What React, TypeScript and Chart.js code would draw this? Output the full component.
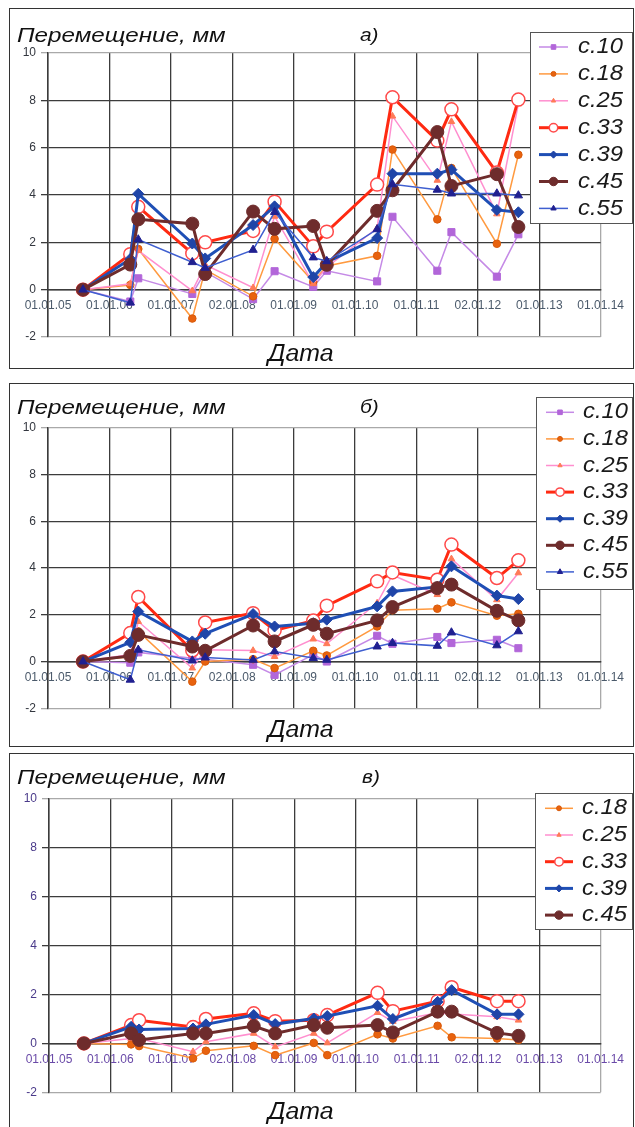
import React, { useEffect, useRef } from 'react';
import { Chart, registerables } from 'chart.js';

Chart.register(...registerables);

const FONT = "'Liberation Sans', Arial, sans-serif";

const X_MIN = 2005;
const X_MAX = 2014;
const X_TICK_LABELS = ['01.01.05', '01.01.06', '01.01.07', '02.01.08', '01.01.09', '01.01.10', '01.01.11', '02.01.12', '01.01.13', '01.01.14'];
const Y_MIN = -2;
const Y_MAX = 10;
const Y_STEP = 2;
const Y_TITLE = 'Перемещение, мм';
const X_TITLE = 'Дата';
const PANEL_LETTERS = ['а)', 'б)', 'в)'];

// measurement dates (decimal years)
const DATES = [2005.57, 2006.34, 2006.47, 2007.35, 2007.56, 2008.34, 2008.69, 2009.32, 2009.54, 2010.36, 2010.61, 2011.34, 2011.57, 2012.31, 2012.66];

// panel а)
const A_C10 = [0, -0.5, 0.48, -0.18, 0.75, -0.4, 0.78, 0.12, 0.8, 0.35, 3.08, 0.8, 2.43, 0.55, 2.34];
const A_C18 = [0, 0.2, 1.72, -1.22, 0.85, -0.28, 2.15, 0.33, 1.0, 1.43, 5.92, 2.97, 5.14, 1.94, 5.7];
const A_C25 = [0, 0.25, 1.65, -0.05, 1.05, 0.08, 3.1, 0.25, 0.95, 2.6, 7.33, 4.62, 7.1, 3.2, 7.85];
const A_C33 = [0, 1.5, 3.5, 1.53, 2.0, 2.48, 3.72, 1.83, 2.45, 4.44, 8.13, 6.3, 7.62, 4.95, 8.03];
const A_C39 = [0, 1.3, 4.05, 1.95, 1.32, 2.73, 3.52, 0.53, 1.16, 2.18, 4.9, 4.9, 5.07, 3.37, 3.27];
const A_C45 = [0, 1.06, 2.97, 2.79, 0.66, 3.3, 2.57, 2.69, 1.05, 3.33, 4.2, 6.66, 4.38, 4.88, 2.65];
const A_C55 = [0, -0.55, 2.12, 1.16, 0.92, 1.68, 3.28, 1.36, 1.2, 2.55, 4.45, 4.22, 4.06, 4.06, 3.98];

// panel б)
const B_C10 = [0, -0.05, 0.39, 0.14, 0.1, -0.14, -0.57, 0.3, 0.0, 1.1, 0.76, 1.05, 0.79, 0.93, 0.57];
const B_C18 = [0, 0.2, 1.29, -0.86, 0.0, 0.1, -0.28, 0.46, 0.26, 1.5, 2.19, 2.26, 2.53, 1.96, 2.04];
const B_C25 = [0, 0.3, 1.71, -0.28, 0.5, 0.47, 0.21, 0.96, 0.76, 2.5, 3.7, 2.86, 4.39, 2.64, 3.79];
const B_C33 = [0, 1.22, 2.76, 0.47, 1.67, 2.07, 1.33, 1.75, 2.39, 3.43, 3.81, 3.5, 5.0, 3.57, 4.33];
const B_C39 = [0, 0.82, 2.14, 0.86, 1.19, 2.03, 1.5, 1.64, 1.79, 2.36, 3.0, 3.19, 4.07, 2.82, 2.67];
const B_C45 = [0, 0.24, 1.14, 0.64, 0.46, 1.54, 0.86, 1.57, 1.19, 1.76, 2.33, 3.14, 3.29, 2.17, 1.76];
const B_C55 = [0, -0.78, 0.5, 0.04, 0.17, 0.07, 0.43, 0.15, 0.07, 0.64, 0.79, 0.67, 1.24, 0.69, 1.29];

// panel в)
const C_C18 = [0, -0.04, -0.11, -0.61, -0.3, -0.1, -0.48, 0.02, -0.48, 0.37, 0.2, 0.72, 0.25, 0.2, 0.14];
const C_C25 = [0, 0.2, 0.2, -0.34, 0.07, 0.41, -0.14, 0.41, 0.02, 1.26, 0.9, 1.25, 1.2, 1.09, 0.95];
const C_C33 = [0, 0.75, 0.95, 0.67, 1.0, 1.23, 0.91, 0.95, 1.16, 2.07, 1.32, 1.73, 2.3, 1.73, 1.73];
const C_C39 = [0, 0.68, 0.57, 0.61, 0.78, 1.16, 0.79, 1.02, 1.12, 1.54, 1.0, 1.7, 2.18, 1.19, 1.19];
const C_C45 = [0, 0.41, 0.14, 0.41, 0.41, 0.71, 0.41, 0.75, 0.64, 0.75, 0.45, 1.3, 1.3, 0.43, 0.31];

const SERIES_STYLE: Record<string, any> = {
  'с.10': { line: '#C58AE6', lw: 1.5, shape: 'rect', r: 5, fill: '#B266D9', stroke: '#B266D9', pbw: 1 },
  'с.18': { line: '#FF9A40', lw: 1.5, shape: 'circle', r: 3.8, fill: '#E8620E', stroke: '#D85A0A', pbw: 1 },
  'с.25': { line: '#FF8FCF', lw: 1.5, shape: 'triangle', r: 3.8, fill: '#FF7A58', stroke: '#FF7A58', pbw: 1 },
  'с.33': { line: '#FF2A12', lw: 3, shape: 'circle', r: 6.5, fill: '#FFFFFF', stroke: '#FF4A4A', pbw: 1.5 },
  'с.39': { line: '#1F4FB5', lw: 3, shape: 'rectRot', r: 5.5, fill: '#1F45A8', stroke: '#1F45A8', pbw: 1 },
  'с.45': { line: '#6E2C2C', lw: 3, shape: 'circle', r: 6.5, fill: '#6E2C2C', stroke: '#6E2C2C', pbw: 1 },
  'с.55': { line: '#3F5FD0', lw: 1.5, shape: 'triangle', r: 4.8, fill: '#202090', stroke: '#202090', pbw: 1 },
};

const PANELS = [
  {
    letter: PANEL_LETTERS[0],
    series: [['с.10', A_C10], ['с.18', A_C18], ['с.25', A_C25], ['с.33', A_C33], ['с.39', A_C39], ['с.45', A_C45], ['с.55', A_C55]],
    box: { left: 9, top: 8, width: 625, height: 361 },
    axisW: 38, padR: 31, padT: 44, padB: 31,
    yTickColor: '#33373f', xTickColor: '#4b5a6b',
    title: { x: 7, y: 32.7 }, letterPos: { x: 350, y: 32 }, xTitle: { x: 258, y: 352 },
    legend: { x: 520, y: 23, w: 103, h: 192, firstY: 38, rowH: 26.9, x1: 529, x2: 558, tx: 568 },
  },
  {
    letter: PANEL_LETTERS[1],
    series: [['с.10', B_C10], ['с.18', B_C18], ['с.25', B_C25], ['с.33', B_C33], ['с.39', B_C39], ['с.45', B_C45], ['с.55', B_C55]],
    box: { left: 9, top: 383, width: 625, height: 364 },
    axisW: 38, padR: 27, padT: 43.7, padB: 37.7,
    yTickColor: '#33373f', xTickColor: '#4b5a6b',
    title: { x: 7, y: 30 }, letterPos: { x: 350, y: 29 }, xTitle: { x: 258, y: 353 },
    legend: { x: 526, y: 13, w: 97, h: 193, firstY: 28.3, rowH: 26.6, x1: 536, x2: 564, tx: 573 },
  },
  {
    letter: PANEL_LETTERS[2],
    series: [['с.18', C_C18], ['с.25', C_C25], ['с.33', C_C33], ['с.39', C_C39], ['с.45', C_C45]],
    box: { left: 9, top: 753, width: 625, height: 376 },
    axisW: 39, padR: 26.3, padT: 45, padB: 35.7,
    yTickColor: '#4a3a8a', xTickColor: '#6a4aa8',
    title: { x: 7, y: 30 }, letterPos: { x: 352, y: 29 }, xTitle: { x: 258, y: 365 },
    legend: { x: 525, y: 39, w: 98, h: 137, firstY: 54.3, rowH: 26.7, x1: 535, x2: 563, tx: 572 },
  },
];

function drawMarker(ctx: CanvasRenderingContext2D, shape: string, x: number, y: number, r: number, fill: string, stroke: string, lw: number) {
  ctx.beginPath();
  if (shape === 'circle') {
    ctx.arc(x, y, r, 0, Math.PI * 2);
  } else if (shape === 'rect') {
    const s = r * Math.SQRT1_2;
    ctx.rect(x - s, y - s, 2 * s, 2 * s);
  } else if (shape === 'rectRot') {
    ctx.moveTo(x, y - r);
    ctx.lineTo(x + r, y);
    ctx.lineTo(x, y + r);
    ctx.lineTo(x - r, y);
    ctx.closePath();
  } else if (shape === 'triangle') {
    let a = 0;
    ctx.moveTo(x + Math.sin(a) * r, y - Math.cos(a) * r);
    a += (2 * Math.PI) / 3;
    ctx.lineTo(x + Math.sin(a) * r, y - Math.cos(a) * r);
    a += (2 * Math.PI) / 3;
    ctx.lineTo(x + Math.sin(a) * r, y - Math.cos(a) * r);
    ctx.closePath();
  }
  ctx.fillStyle = fill;
  ctx.fill();
  ctx.lineWidth = lw;
  ctx.strokeStyle = stroke;
  ctx.stroke();
}

function drawText(ctx: CanvasRenderingContext2D, text: string, x: number, y: number, font: string, sx: number, color: string, baseline: CanvasTextBaseline = 'alphabetic') {
  ctx.save();
  ctx.font = font;
  ctx.fillStyle = color;
  ctx.textBaseline = baseline;
  ctx.textAlign = 'left';
  ctx.translate(x, y);
  ctx.scale(sx, 1);
  ctx.fillText(text, 0, 0);
  ctx.restore();
}

const DARK = '#3c3c3c';
const LIGHT = '#a9a9a9';

function Panel({ cfg }: { cfg: any }) {
  const ref = useRef<HTMLCanvasElement | null>(null);
  const cw = cfg.box.width - 2;
  const ch = cfg.box.height - 2;

  useEffect(() => {
    const canvas = ref.current;
    if (!canvas) return;
    const n = cfg.series.length;
    const datasets = cfg.series.map(([name, values]: [string, number[]], i: number) => {
      const st = SERIES_STYLE[name];
      return {
        label: name,
        data: DATES.map((d, j) => ({ x: d, y: values[j] })),
        borderColor: st.line,
        backgroundColor: st.fill,
        borderWidth: st.lw,
        pointStyle: st.shape,
        pointRadius: st.r,
        pointHoverRadius: st.r,
        pointBackgroundColor: st.fill,
        pointBorderColor: st.stroke,
        pointBorderWidth: st.pbw,
        tension: 0,
        fill: false,
        order: n - i,
      };
    });

    const overlay = {
      id: 'panelOverlay',
      afterDraw(chart: any) {
        const ctx: CanvasRenderingContext2D = chart.ctx;
        // titles
        drawText(ctx, Y_TITLE, cfg.title.x, cfg.title.y, `italic 20px ${FONT}`, 1.21, '#111');
        drawText(ctx, cfg.letter, cfg.letterPos.x, cfg.letterPos.y, `italic 19px ${FONT}`, 1.1, '#111');
        drawText(ctx, X_TITLE, cfg.xTitle.x, cfg.xTitle.y, `italic 23px ${FONT}`, 1.08, '#111');
        // legend
        const L = cfg.legend;
        ctx.save();
        ctx.fillStyle = '#ffffff';
        ctx.fillRect(L.x, L.y, L.w, L.h);
        ctx.strokeStyle = '#555';
        ctx.lineWidth = 1;
        ctx.strokeRect(L.x + 0.5, L.y + 0.5, L.w - 1, L.h - 1);
        chart.data.datasets.forEach((ds: any, i: number) => {
          const y = L.firstY + i * L.rowH;
          ctx.strokeStyle = ds.borderColor;
          ctx.lineWidth = ds.borderWidth;
          ctx.beginPath();
          ctx.moveTo(L.x1, y);
          ctx.lineTo(L.x2, y);
          ctx.stroke();
          drawMarker(ctx, ds.pointStyle, (L.x1 + L.x2) / 2, y, ds.pointRadius * 0.65, ds.pointBackgroundColor, ds.pointBorderColor, ds.pointBorderWidth);
          drawText(ctx, ds.label, L.tx, y, `italic 22px ${FONT}`, 1.08, '#1a1a1a', 'middle');
        });
        ctx.restore();
      },
    };

    const chart = new Chart(canvas, {
      type: 'line',
      data: { datasets },
      options: {
        responsive: false,
        maintainAspectRatio: false,
        animation: false,
        events: [],
        layout: { padding: { left: 0, right: cfg.padR, top: cfg.padT, bottom: cfg.padB } },
        plugins: {
          legend: { display: false },
          tooltip: { enabled: false },
          title: { display: false },
        },
        scales: {
          x: {
            type: 'linear',
            min: X_MIN,
            max: X_MAX,
            position: { y: 0 },
            ticks: {
              stepSize: 1,
              autoSkip: false,
              maxRotation: 0,
              minRotation: 0,
              padding: 9,
              color: cfg.xTickColor,
              font: { family: FONT, size: 12 },
              callback: (v: any) => X_TICK_LABELS[Math.round(Number(v) - X_MIN)] ?? '',
            },
            grid: {
              drawTicks: false,
              lineWidth: 1.3,
              color: (c: any) => (c.tick && c.tick.value === X_MAX ? LIGHT : DARK),
            },
            border: { display: true, color: DARK, width: 1.5 },
            afterFit: (s: any) => {
              s.height = 0;
            },
          },
          y: {
            type: 'linear',
            min: Y_MIN,
            max: Y_MAX,
            position: 'left',
            ticks: {
              stepSize: Y_STEP,
              padding: 5,
              color: cfg.yTickColor,
              font: { family: FONT, size: 12 },
            },
            grid: {
              tickLength: 7,
              lineWidth: 1.3,
              color: (c: any) => (c.tick && (c.tick.value === Y_MAX || c.tick.value === Y_MIN) ? LIGHT : DARK),
            },
            border: { display: true, color: DARK, width: 1.5 },
            afterFit: (s: any) => {
              s.width = cfg.axisW;
            },
          },
        },
      },
      plugins: [overlay],
    } as any);

    return () => chart.destroy();
  }, []);

  return (
    <div
      style={{
        position: 'absolute',
        left: cfg.box.left,
        top: cfg.box.top,
        width: cfg.box.width,
        height: cfg.box.height,
        boxSizing: 'border-box',
        border: '1px solid #333',
        background: '#fff',
      }}
    >
      <canvas ref={ref} width={cw} height={ch} style={{ display: 'block', width: cw, height: ch }} />
    </div>
  );
}

export default function App() {
  return (
    <div style={{ position: 'absolute', left: 0, top: 0, width: 635, height: 1127, overflow: 'hidden', background: '#fff' }}>
      {PANELS.map((p, i) => (
        <Panel key={i} cfg={p} />
      ))}
    </div>
  );
}
